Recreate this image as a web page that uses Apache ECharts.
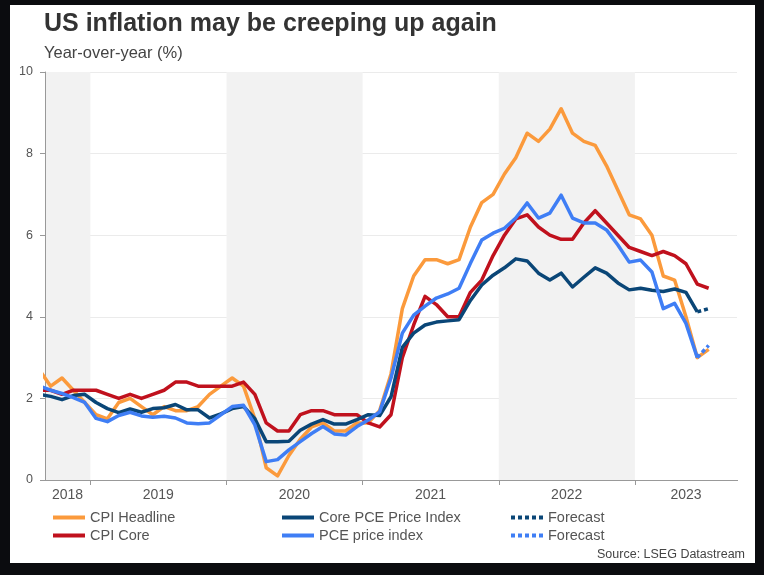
<!DOCTYPE html>
<html>
<head>
<meta charset="utf-8">
<title>US inflation may be creeping up again</title>
<script src="https://cdn.jsdelivr.net/npm/echarts@6/dist/echarts.min.js"></script>
<style>
  html, body { margin: 0; padding: 0; background: #0b0c0f; }
  #card { position: absolute; left: 10px; top: 5px; width: 745px; height: 558px; background: #fff; }
  #chart { position: absolute; left: 0; top: 0; width: 764px; height: 575px; }
</style>
</head>
<body>
<div id="card"></div>
<div id="chart"></div>
<script>
// monthly, Aug 2018 .. Sep 2023 (Aug 2018 sits just left of the axis and gets clipped)
var monthNames = ['Jan','Feb','Mar','Apr','May','Jun','Jul','Aug','Sep','Oct','Nov','Dec'];
var months = [];
for (var y = 2018; y <= 2023; y++) {
  for (var m = 0; m < 12; m++) {
    if ((y === 2018 && m < 7) || (y === 2023 && m > 8)) continue;
    months.push(monthNames[m] + ' ' + y);
  }
}

var yearLabels = ['2018', '2019', '2020', '2021', '2022', '2023'];
var yearLabelMonths = ['Oct 2018', 'Jun 2019', 'Jun 2020', 'Jun 2021', 'Jun 2022', 'May 2023'];

var cpiHeadline = [
  2.7, 2.3, 2.5, 2.2, 1.9,
  1.6, 1.5, 1.9, 2.0, 1.8, 1.6, 1.8, 1.7, 1.7, 1.8, 2.1, 2.3,
  2.5, 2.3, 1.5, 0.3, 0.1, 0.6, 1.0, 1.3, 1.4, 1.2, 1.2, 1.4,
  1.4, 1.7, 2.6, 4.2, 5.0, 5.4, 5.4, 5.3, 5.4, 6.2, 6.8, 7.0,
  7.5, 7.9, 8.5, 8.3, 8.6, 9.1, 8.5, 8.3, 8.2, 7.7, 7.1, 6.5,
  6.4, 6.0, 5.0, 4.9, 4.0, 3.0, 3.2, null, null
];
var cpiCore = [
  2.2, 2.2, 2.1, 2.2, 2.2,
  2.2, 2.1, 2.0, 2.1, 2.0, 2.1, 2.2, 2.4, 2.4, 2.3, 2.3, 2.3,
  2.3, 2.4, 2.1, 1.4, 1.2, 1.2, 1.6, 1.7, 1.7, 1.6, 1.6, 1.6,
  1.4, 1.3, 1.6, 3.0, 3.8, 4.5, 4.3, 4.0, 4.0, 4.6, 4.9, 5.5,
  6.0, 6.4, 6.5, 6.2, 6.0, 5.9, 5.9, 6.3, 6.6, 6.3, 6.0, 5.7,
  5.6, 5.5, 5.6, 5.5, 5.3, 4.8, 4.7, null, null
];
var corePce = [
  2.1, 2.05, 1.97, 2.07, 2.1,
  1.9, 1.75, 1.65, 1.74, 1.66, 1.75, 1.77, 1.85, 1.72, 1.72, 1.52, 1.62,
  1.75, 1.8, 1.5, 0.94, 0.94, 0.95, 1.22, 1.37, 1.48, 1.37, 1.37, 1.48,
  1.6, 1.58, 2.04, 3.25, 3.6, 3.8, 3.87, 3.9, 3.93, 4.4, 4.78, 5.02,
  5.2, 5.42, 5.37, 5.07, 4.9, 5.07, 4.73, 4.97, 5.2, 5.07, 4.83, 4.66,
  4.7, 4.65, 4.62, 4.68, 4.6, 4.12, null, null, null
];
var pce = [
  2.3, 2.2, 2.12, 2.02, 1.9,
  1.51, 1.43, 1.58, 1.66, 1.57, 1.54, 1.56, 1.52, 1.4, 1.38, 1.4, 1.6,
  1.8, 1.83, 1.35, 0.45, 0.5, 0.74, 0.94, 1.14, 1.31, 1.13, 1.1, 1.31,
  1.47, 1.67, 2.5, 3.6, 4.04, 4.26, 4.46, 4.56, 4.7, 5.31, 5.88, 6.05,
  6.17, 6.42, 6.79, 6.42, 6.54, 6.98, 6.42, 6.3, 6.3, 6.13, 5.76, 5.34,
  5.39, 5.1, 4.2, 4.33, 3.84, 3.0, null, null, null
];
// forecasts: Jun 2023 -> Jul 2023
var corePceForecast = months.map(function () { return null; });
corePceForecast[58] = 4.12; corePceForecast[59] = 4.2;
var pceForecast = months.map(function () { return null; });
pceForecast[58] = 3.0; pceForecast[59] = 3.3;

var FONT = '"Liberation Sans", Arial, sans-serif';
var colors = {
  headline: '#fb9a3c',
  core: '#c0111d',
  corePce: '#0a4677',
  pce: '#3f7ef5'
};

function isJan(i, v) { return v.indexOf('Jan') === 0; }

function lineSeries(name, data, color, dashed) {
  return {
    name: name,
    type: 'line',
    data: data,
    symbol: 'none',
    connectNulls: false,
    itemStyle: { color: color },
    lineStyle: { color: color, width: 3.5, type: dashed ? [4, 3] : 'solid', cap: 'butt', join: 'round' },
    emphasis: { disabled: true }
  };
}

var legendBase = {
  orient: 'vertical',
  top: 510,
  padding: 0,
  itemWidth: 32,
  itemHeight: 12,
  itemGap: 3,
  lineStyle: { width: 4 },
  itemStyle: { opacity: 0 },
  textStyle: { fontSize: 14.5, color: '#555', fontFamily: FONT },
  formatter: function (n) { return n.trim(); },
  selectedMode: false
};

var chart = echarts.init(document.getElementById('chart'));
chart.setOption({
  animation: false,
  textStyle: { fontFamily: FONT },
  grid: { left: 45, right: 27, top: 72, bottom: 95, containLabel: false },
  graphic: [
    { type: 'text', x: 44, y: 24.5, style: { text: 'US inflation may be creeping up again', font: 'bold 25px ' + FONT, fill: '#333', textAlign: 'left', textVerticalAlign: 'middle' } },
    { type: 'text', x: 44, y: 53.5, style: { text: 'Year-over-year (%)', font: '16.5px ' + FONT, fill: '#444', textAlign: 'left', textVerticalAlign: 'middle' } },
    { type: 'text', x: 745, y: 555, style: { text: 'Source: LSEG Datastream', font: '12.5px ' + FONT, fill: '#444', textAlign: 'right', textVerticalAlign: 'middle' } },
    // hide the closing tick ECharts adds at the right end of a band axis
    { type: 'rect', shape: { x: 734, y: 481, width: 8, height: 7 }, style: { fill: '#fff' }, z: 100 }
  ],
  legend: [
    Object.assign({}, legendBase, { left: 51, data: ['CPI Headline', 'CPI Core'] }),
    Object.assign({}, legendBase, { left: 280, data: ['Core PCE Price Index', 'PCE price index'] }),
    Object.assign({}, legendBase, { left: 509, data: ['Forecast', 'Forecast '] })
  ],
  xAxis: {
    type: 'category',
    data: months,
    min: 1,
    boundaryGap: true,
    axisLine: { show: true, lineStyle: { color: '#999', width: 1 } },
    axisTick: { show: true, interval: isJan, length: 5, lineStyle: { color: '#999' } },
    axisLabel: {
      interval: function (i, v) { return yearLabelMonths.indexOf(v) >= 0; },
      formatter: function (v) {
        var k = yearLabelMonths.indexOf(v);
        return (k === 5 ? '{e|' : '{s|') + yearLabels[k] + '}';
      },
      color: '#555',
      fontSize: 14,
      margin: 8,
      rich: {
        s: { padding: [0, 0, 0, 11], fontSize: 14, color: '#555', fontFamily: FONT },
        e: { fontSize: 14, color: '#555', fontFamily: FONT }
      }
    },
    splitLine: { show: false },
    splitArea: { show: true, interval: isJan, areaStyle: { color: ['#f2f2f2', 'rgba(255,255,255,0)'] } }
  },
  yAxis: {
    type: 'value',
    min: 0,
    max: 10,
    interval: 2,
    axisLine: { show: true, lineStyle: { color: '#999' } },
    axisTick: { show: true, length: 5, lineStyle: { color: '#999' } },
    axisLabel: { color: '#555', fontSize: 12.5, margin: 12 },
    splitLine: { show: true, lineStyle: { color: '#ebebeb', width: 1 } }
  },
  series: [
    lineSeries('CPI Headline', cpiHeadline, colors.headline, false),
    lineSeries('CPI Core', cpiCore, colors.core, false),
    lineSeries('Core PCE Price Index', corePce, colors.corePce, false),
    lineSeries('PCE price index', pce, colors.pce, false),
    lineSeries('Forecast', corePceForecast, colors.corePce, true),
    lineSeries('Forecast ', pceForecast, colors.pce, true)
  ]
});
</script>
</body>
</html>
